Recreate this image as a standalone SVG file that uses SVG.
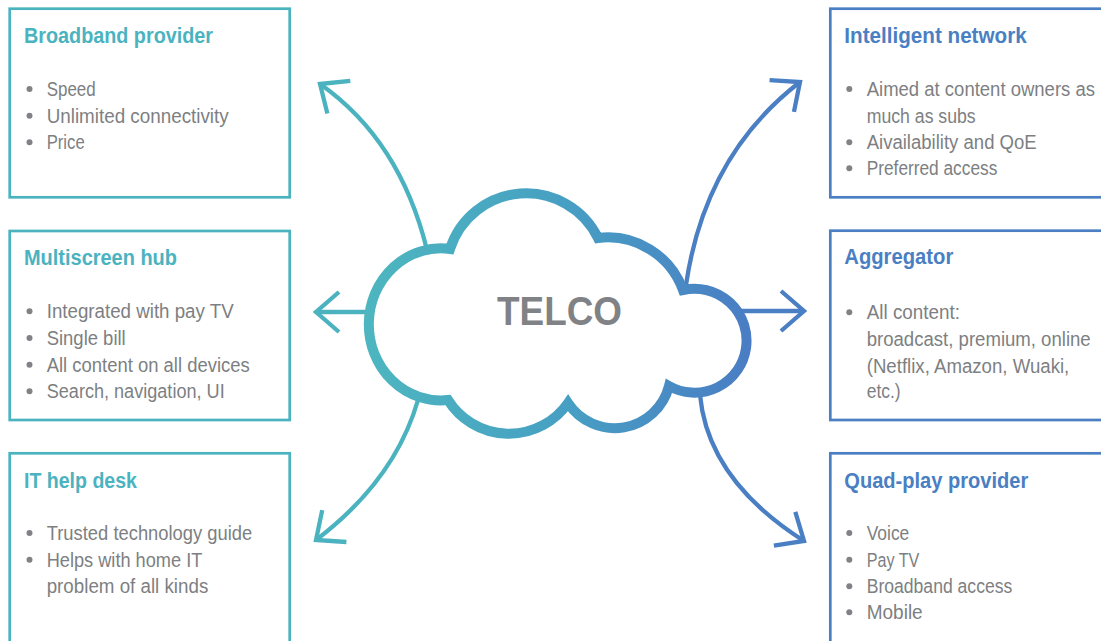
<svg xmlns="http://www.w3.org/2000/svg" width="1101" height="641" viewBox="0 0 1101 641">
  <style>
    .box { fill: #ffffff; stroke-width: 2.7; }
    .teal { stroke: #4bb3bf; }
    .blue { stroke: #4a7fc3; }
    .title { font-family: "Liberation Sans", Arial, sans-serif; font-size: 22px; font-weight: bold; }
    .tt { fill: #4bb3bf; }
    .tb { fill: #4a7fc3; }
    .body { font-family: "Liberation Sans", Arial, sans-serif; font-size: 20px; fill: #7d7f82; }
    .dot { fill: #808285; }
    .arrow { fill: none; stroke-width: 4.3; }
  </style>
  <defs>
    <linearGradient id="cloudGrad" gradientUnits="userSpaceOnUse" x1="365" y1="0" x2="755" y2="0">
      <stop offset="0" stop-color="#4db6bf"/>
      <stop offset="0.5" stop-color="#47a0c3"/>
      <stop offset="1" stop-color="#4a7cc4"/>
    </linearGradient>
    <marker id="headTeal" markerUnits="userSpaceOnUse" viewBox="-30 -30 40 60" markerWidth="40" markerHeight="60" refX="0" refY="0" orient="auto">
      <path d="M -23 -20 L 0 0 L -23 20" fill="none" stroke="#4bb3bf" stroke-width="4.3"/>
    </marker>
    <marker id="headBlue" markerUnits="userSpaceOnUse" viewBox="-30 -30 40 60" markerWidth="40" markerHeight="60" refX="0" refY="0" orient="auto">
      <path d="M -23 -20 L 0 0 L -23 20" fill="none" stroke="#4a7fc3" stroke-width="4.3"/>
    </marker>
  </defs>

  <!-- connectors from the cloud to each role -->
  <g id="connectors">
    <path class="arrow teal" d="M 427 250 Q 400 140 320 84" marker-end="url(#headTeal)"/>
    <path class="arrow teal" d="M 372 312 L 316 312" marker-end="url(#headTeal)"/>
    <path class="arrow teal" d="M 418 400 Q 395 480 316 540" marker-end="url(#headTeal)"/>
    <path class="arrow blue" d="M 686 285 Q 705 155 800 82" marker-end="url(#headBlue)"/>
    <path class="arrow blue" d="M 740 311 L 804 311" marker-end="url(#headBlue)"/>
    <path class="arrow blue" d="M 700 395 Q 708 480 804 541" marker-end="url(#headBlue)"/>
  </g>

  <!-- central cloud -->
  <g id="telco">
    <path d="M 450 249 A 80 80 0 0 1 598 238 A 80 80 0 0 1 683 290 A 52 52 0 1 1 669 386 A 56 56 0 0 1 568 403 A 72 72 0 0 1 448 400 A 72 76 0 1 1 450 249 Z" fill="#ffffff" stroke="url(#cloudGrad)" stroke-width="10" stroke-linejoin="miter"/>
    <text x="497" y="325" font-family="Liberation Sans, Arial, sans-serif" font-size="41" font-weight="bold" fill="#808285" textLength="125" lengthAdjust="spacingAndGlyphs">TELCO</text>
  </g>

  <!-- left column -->
  <g id="broadband-provider">
    <rect class="box teal" x="9.7" y="8.7" width="280" height="188.6"/>
    <text class="title tt" x="24" y="42.7" textLength="189" lengthAdjust="spacingAndGlyphs">Broadband provider</text>
    <circle class="dot" cx="29.5" cy="89" r="3"/>
    <circle class="dot" cx="29.5" cy="115.7" r="3"/>
    <circle class="dot" cx="29.5" cy="142.3" r="3"/>
    <text class="body" x="46.7" y="96" textLength="49" lengthAdjust="spacingAndGlyphs">Speed</text>
    <text class="body" x="46.7" y="122.7" textLength="182" lengthAdjust="spacingAndGlyphs">Unlimited connectivity</text>
    <text class="body" x="46.7" y="149.3" textLength="38" lengthAdjust="spacingAndGlyphs">Price</text>
  </g>

  <g id="multiscreen-hub">
    <rect class="box teal" x="9.7" y="231" width="280" height="189"/>
    <text class="title tt" x="24" y="265" textLength="153" lengthAdjust="spacingAndGlyphs">Multiscreen hub</text>
    <circle class="dot" cx="29.5" cy="311.3" r="3"/>
    <circle class="dot" cx="29.5" cy="338" r="3"/>
    <circle class="dot" cx="29.5" cy="364.7" r="3"/>
    <circle class="dot" cx="29.5" cy="391.3" r="3"/>
    <text class="body" x="46.7" y="318.3" textLength="187" lengthAdjust="spacingAndGlyphs">Integrated with pay TV</text>
    <text class="body" x="46.7" y="345" textLength="79" lengthAdjust="spacingAndGlyphs">Single bill</text>
    <text class="body" x="46.7" y="371.7" textLength="203" lengthAdjust="spacingAndGlyphs">All content on all devices</text>
    <text class="body" x="46.7" y="398.3" textLength="178" lengthAdjust="spacingAndGlyphs">Search, navigation, UI</text>
  </g>

  <g id="it-help-desk">
    <rect class="box teal" x="9.7" y="453.3" width="280" height="200"/>
    <text class="title tt" x="24" y="487.7" textLength="113" lengthAdjust="spacingAndGlyphs">IT help desk</text>
    <circle class="dot" cx="29.5" cy="533" r="3"/>
    <circle class="dot" cx="29.5" cy="559.7" r="3"/>
    <text class="body" x="46.7" y="540" textLength="205.6" lengthAdjust="spacingAndGlyphs">Trusted technology guide</text>
    <text class="body" x="46.7" y="566.7" textLength="155.6" lengthAdjust="spacingAndGlyphs">Helps with home IT</text>
    <text class="body" x="46.7" y="593.3" textLength="161.6" lengthAdjust="spacingAndGlyphs">problem of all kinds</text>
  </g>

  <!-- right column -->
  <g id="intelligent-network">
    <rect class="box blue" x="830.3" y="8.7" width="290" height="188.6"/>
    <text class="title tb" x="844.3" y="42.7" textLength="182.4" lengthAdjust="spacingAndGlyphs">Intelligent network</text>
    <circle class="dot" cx="849.3" cy="89" r="3"/>
    <circle class="dot" cx="849.3" cy="142.3" r="3"/>
    <circle class="dot" cx="849.3" cy="168.3" r="3"/>
    <text class="body" x="866.7" y="96" textLength="228.3" lengthAdjust="spacingAndGlyphs">Aimed at content owners as</text>
    <text class="body" x="866.7" y="122.7" textLength="109" lengthAdjust="spacingAndGlyphs">much as subs</text>
    <text class="body" x="866.7" y="149.3" textLength="170" lengthAdjust="spacingAndGlyphs">Aivailability and QoE</text>
    <text class="body" x="866.7" y="175.3" textLength="130.6" lengthAdjust="spacingAndGlyphs">Preferred access</text>
  </g>

  <g id="aggregator">
    <rect class="box blue" x="830.3" y="230.7" width="290" height="189.3"/>
    <text class="title tb" x="844.3" y="264.3" textLength="109" lengthAdjust="spacingAndGlyphs">Aggregator</text>
    <circle class="dot" cx="849.3" cy="312.3" r="3"/>
    <text class="body" x="866.7" y="319.3" textLength="93.3" lengthAdjust="spacingAndGlyphs">All content:</text>
    <text class="body" x="866.7" y="346" textLength="224" lengthAdjust="spacingAndGlyphs">broadcast, premium, online</text>
    <text class="body" x="866.7" y="372.7" textLength="202.6" lengthAdjust="spacingAndGlyphs">(Netflix, Amazon, Wuaki,</text>
    <text class="body" x="866.7" y="398.3" textLength="34" lengthAdjust="spacingAndGlyphs">etc.)</text>
  </g>

  <g id="quad-play-provider">
    <rect class="box blue" x="830.3" y="453.3" width="290" height="200"/>
    <text class="title tb" x="844.3" y="487.7" textLength="184" lengthAdjust="spacingAndGlyphs">Quad-play provider</text>
    <circle class="dot" cx="849.3" cy="533" r="3"/>
    <circle class="dot" cx="849.3" cy="559.7" r="3"/>
    <circle class="dot" cx="849.3" cy="586.3" r="3"/>
    <circle class="dot" cx="849.3" cy="612.3" r="3"/>
    <text class="body" x="866.7" y="540" textLength="42.6" lengthAdjust="spacingAndGlyphs">Voice</text>
    <text class="body" x="866.7" y="566.7" textLength="52.6" lengthAdjust="spacingAndGlyphs">Pay TV</text>
    <text class="body" x="866.7" y="593.3" textLength="145.6" lengthAdjust="spacingAndGlyphs">Broadband access</text>
    <text class="body" x="866.7" y="619.3" textLength="56" lengthAdjust="spacingAndGlyphs">Mobile</text>
  </g>
</svg>
